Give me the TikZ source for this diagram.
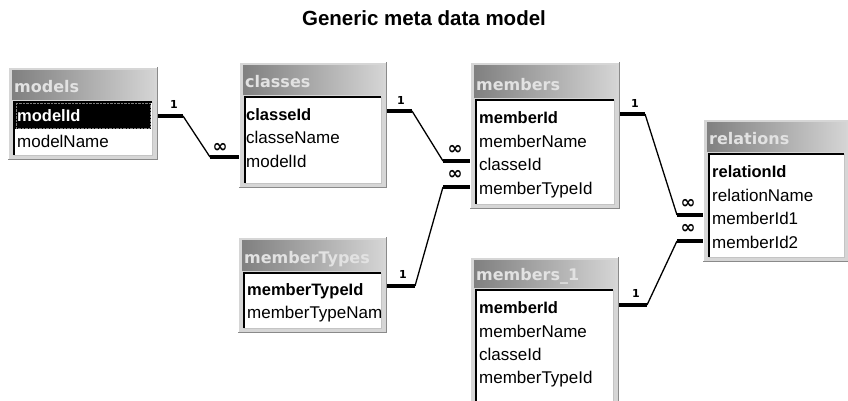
\documentclass[tikz,border=0pt]{standalone}
\usepackage{fontspec}
\setmainfont{Liberation Sans}
\newfontfamily\capfont{DejaVu Sans}
\usetikzlibrary{fit}

\definecolor{framegray}{HTML}{D6D6D6}
\definecolor{frameshadow}{HTML}{8A8A8A}
\definecolor{hdrdark}{HTML}{808080}
\definecolor{hdrlight}{HTML}{D4D4D4}
\definecolor{hdrtext}{HTML}{E2E2E2}
\definecolor{innerline}{HTML}{C4C4C4}

\tikzset{
  field/.style={anchor=base west, inner sep=0pt, yshift=-5.5pt, font=\fontsize{17}{19}\selectfont},
  keyfield/.style={field, font=\fontsize{16.5}{19}\selectfont\bfseries},
  hdr/.style={anchor=base west, inner sep=0pt, text=hdrtext,
    font=\capfont\bfseries\fontsize{16}{18}\selectfont},
  thickstub/.style={line width=3.4pt},
  link/.style={line width=1.3pt},
  one/.style={font=\capfont\bfseries\fontsize{11}{12}\selectfont, inner sep=0pt},
  many/.style={font=\capfont\bfseries\fontsize{18}{18}\selectfont, inner sep=0pt},
}

% table window: #1 name, #2 left, #3 top, #4 right, #5 bottom, #6 caption bottom, #7 caption
\newcommand\dbtable[7]{%
  \fill[framegray] (#2,#3) rectangle (#4,#5);
  \draw[white, line width=1pt] (#2+0.5,#5) -- (#2+0.5,#3+0.5) -- (#4,#3+0.5);
  \draw[frameshadow, line width=1.5pt] (#2,#5-0.75) -- (#4-0.75,#5-0.75) -- (#4-0.75,#3);
  \shade[left color=hdrdark, right color=hdrlight] (#2+4,#3+3) rectangle (#4-4,#6);
  \fill[white] (#2+6,#6+3) rectangle (#4-6,#5-5);
  \draw[innerline, line width=1pt] (#2+6,#5-5) -- (#4-6,#5-5) -- (#4-6,#6+3);
  \draw[black, line width=2pt] (#2+6,#5-5) -- (#2+6,#6+3) -- (#4-6,#6+3);
  \node[hdr] (#1-title) at (#2+6,#6-7) {#7};
  \node[inner sep=0pt, fit={(#2,#3) (#4,#5)}] (#1) {};
}

\begin{document}
\begin{tikzpicture}[x=1pt, y=-1pt]
\useasboundingbox (0,0) rectangle (848,400);
\fill[white] (0,0) rectangle (848,400);

\node[font=\bfseries\fontsize{20.5}{24}\selectfont, inner sep=0pt] (title) at (424,18) {Generic meta data model};

% models
\dbtable{models}{8}{67}{158}{160}{99}{models}
\fill[black] (15,102) rectangle (151,129);
\draw[gray, densely dotted] (16,103) rectangle (150,128);
\node[keyfield, text=white] (models-modelId) at (17,116) {modelId};
\node[field] (models-modelName) at (17,142) {modelName};

% classes
\dbtable{classes}{239}{62}{387}{188}{94}{classes}
\node[keyfield] (classes-classeId) at (246,115) {classeId};
\node[field] (classes-classeName) at (246,138) {classeName};
\node[field] (classes-modelId) at (246,162) {modelId};

% members
\dbtable{members}{470}{62}{620}{209}{97}{members}
\node[keyfield] (members-memberId) at (479,118) {memberId};
\node[field] (members-memberName) at (479,142) {memberName};
\node[field] (members-classeId) at (479,165) {classeId};
\node[field] (members-memberTypeId) at (479,189) {memberTypeId};

% relations
\dbtable{relations}{703}{119}{850}{262}{151}{relations}
\node[keyfield] (relations-relationId) at (712,172) {relationId};
\node[field] (relations-relationName) at (712,196) {relationName};
\node[field] (relations-memberId1) at (712,219) {memberId1};
\node[field] (relations-memberId2) at (712,243) {memberId2};

% memberTypes
\dbtable{memberTypes}{238}{237}{387}{333}{270}{memberTypes}
\node[keyfield] (memberTypes-memberTypeId) at (247,290) {memberTypeId};
\node[field] (memberTypes-memberTypeNam) at (247,313) {memberTypeNam};

% members_1
\dbtable{membersone}{470}{257}{619}{406}{287}{members\_1}
\node[keyfield] (membersone-memberId) at (479,308) {memberId};
\node[field] (membersone-memberName) at (479,332) {memberName};
\node[field] (membersone-classeId) at (479,355) {classeId};
\node[field] (membersone-memberTypeId) at (479,378) {memberTypeId};

% relationship bends
\coordinate (a1) at (183,116); \coordinate (a2) at (210,157);
\coordinate (b1) at (412,111); \coordinate (b2) at (443,161);
\coordinate (c1) at (415,286); \coordinate (c2) at (443,187);
\coordinate (d1) at (645,114); \coordinate (d2) at (677,215);
\coordinate (e1) at (647,305); \coordinate (e2) at (677,241);

% models -> classes
\draw[thickstub] (models.east |- a1) -- (a1);
\draw[link] (a1) -- (a2);
\draw[thickstub] (a2) -- (classes.west |- a2);
\node[one] (l-a) at (174,104) {1};
\node[many] (m-a) at (220,148) {∞};

% classes -> members
\draw[thickstub] (classes.east |- b1) -- (b1);
\draw[link] (b1) -- (b2);
\draw[thickstub] (b2) -- (members.west |- b2);
\node[one] (l-b) at (401,100) {1};
\node[many] (m-b) at (455,150) {∞};

% memberTypes -> members
\draw[thickstub] (memberTypes.east |- c1) -- (c1);
\draw[link] (c1) -- (c2);
\draw[thickstub] (c2) -- (members.west |- c2);
\node[one] (l-c) at (403,274) {1};
\node[many] (m-c) at (455,175) {∞};

% members -> relations
\draw[thickstub] (members.east |- d1) -- (d1);
\draw[link] (d1) -- (d2);
\draw[thickstub] (d2) -- (relations.west |- d2);
\node[one] (l-d) at (635,103) {1};
\node[many] (m-d) at (688,204) {∞};

% members_1 -> relations
\draw[thickstub] (membersone.east |- e1) -- (e1);
\draw[link] (e1) -- (e2);
\draw[thickstub] (e2) -- (relations.west |- e2);
\node[one] (l-e) at (636,293) {1};
\node[many] (m-e) at (688,229) {∞};
\end{tikzpicture}
\end{document}
